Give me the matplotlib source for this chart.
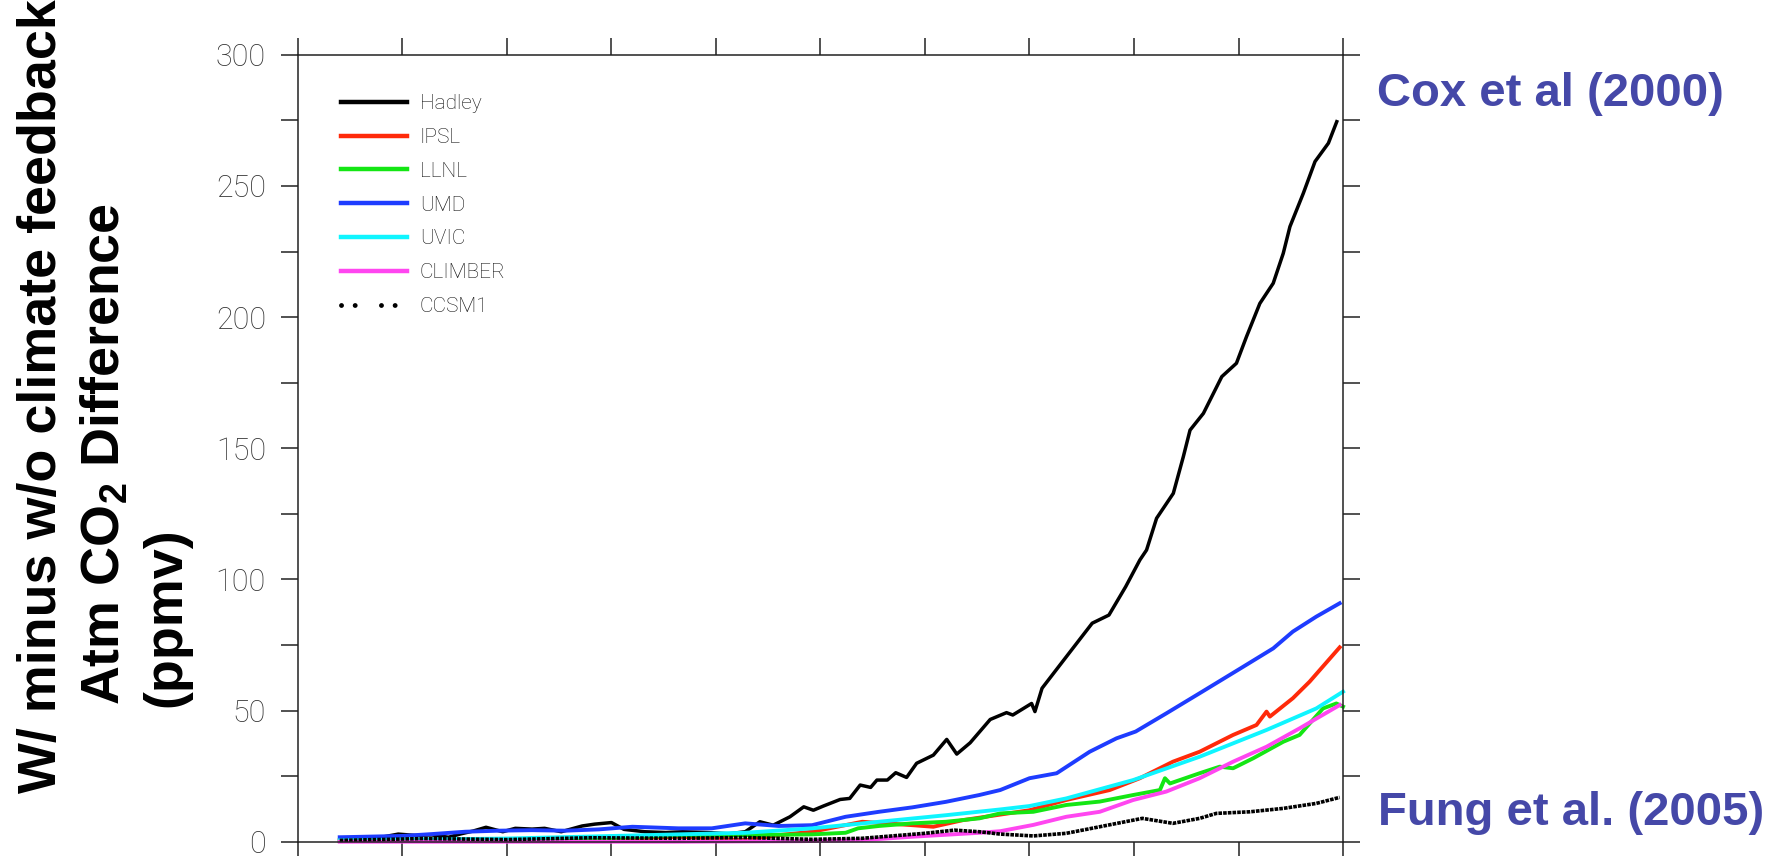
import numpy as np
import matplotlib
matplotlib.use('Agg')
import matplotlib.pyplot as plt
from matplotlib.ticker import MultipleLocator
from matplotlib.lines import Line2D

plt.rcParams['mathtext.fontset'] = 'custom'
plt.rcParams['mathtext.bf'] = 'Liberation Sans:bold'
plt.rcParams['mathtext.rm'] = 'Liberation Sans:bold'
plt.rcParams['mathtext.default'] = 'bf'

# data (year, ppmv difference)
hadley_yr = [1860, 1866, 1870, 1874, 1878, 1882, 1886, 1889, 1892, 1895, 1899, 1902, 1906,
             1909, 1913, 1918, 1921, 1925, 1928, 1933, 1938, 1942, 1948, 1953, 1957, 1960.5,
             1963.7, 1967.7, 1971, 1973.3, 1975.7, 1979.7, 1982, 1984.5, 1987, 1988.5, 1991,
             1993, 1995.6, 1998, 2002, 2005.2, 2007.6, 2010.8, 2015.6, 2019.5, 2021, 2025.5,
             2026.3, 2028, 2033.8, 2040, 2044, 2048, 2051.4, 2053, 2055.4, 2059.4, 2061.8,
             2063.4, 2066.6, 2071, 2074.5, 2076.9, 2080.1, 2083.3, 2085.7, 2087.3, 2090.5,
             2093.3, 2096.5, 2098.5]
hadley = [0.9, 1.3, 1.7, 2.9, 2.4, 2.6, 1.7, 3.0, 4.1, 5.5, 3.8, 5.1, 4.8,
          5.1, 3.8, 6.0, 6.7, 7.3, 4.7, 3.8, 3.5, 3.8, 3.5, 3.0, 3.8, 7.6,
          6.3, 9.5, 13.3, 12.0, 13.6, 16.1, 16.5, 21.6, 20.7, 23.5, 23.5,
          26.3, 24.5, 29.9, 33.0, 39.0, 33.4, 37.7, 46.6, 49.2, 48.3, 52.7,
          49.6, 58.5, 70.5, 83.3, 86.4, 97.2, 107.4, 111.2, 123.3, 132.8, 146.8,
          156.9, 163.3, 177.3, 182.4, 192.5, 205.2, 212.9, 224.3, 234.5, 247.2,
          259.3, 266.3, 274.5]

ipsl_yr = [1860, 1880, 1900, 1920, 1941, 1957, 1965, 1973, 1985, 1997, 2002, 2009, 2017,
           2025, 2033.8, 2044.2, 2051.4, 2059.3, 2065.7, 2073.7, 2079.3, 2081.7, 2082.5,
           2088, 2092, 2099.2]
ipsl = [0.3, 0.5, 0.4, 0.6, 1.9, 0.6, 2.5, 3.8, 7.6, 6.3, 5.7, 8.2, 10.1,
        12.0, 15.9, 19.7, 24.2, 30.5, 34.3, 40.7, 44.5, 49.6, 47.7,
        54.7, 61.0, 74.1]

llnl_yr = [1860, 1880, 1900, 1920, 1941, 1957, 1973, 1981, 1984, 1989, 1997, 2005, 2013,
           2018, 2025.9, 2033.8, 2041.8, 2049.8, 2056.2, 2057.4, 2058.6, 2065.7, 2070.5,
           2073.7, 2078.5, 2085.7, 2089.6, 2095.2, 2098.4, 2100]
llnl = [0.5, 0.8, 0.6, 1.0, 2.5, 2.5, 2.8, 3.4, 5.1, 6.0, 7.0, 7.6, 8.9,
        10.8, 11.4, 14.0, 15.3, 17.8, 19.7, 24.2, 22.2, 26.1, 28.6,
        28.0, 31.8, 38.1, 40.7, 50.8, 52.7, 51.5]

umd_yr = [1860, 1875, 1882, 1890, 1898, 1906, 1914, 1922, 1930, 1941, 1949, 1957, 1965,
          1973, 1981, 1989, 1997, 2005, 2013, 2018, 2025, 2031.5, 2039.4, 2045.8, 2050.4,
          2057.7, 2065.7, 2075.5, 2083.3, 2088, 2093.6, 2099.2]
umd = [1.7, 2.2, 2.9, 3.8, 4.2, 4.4, 4.2, 4.7, 5.7, 5.1, 5.1, 7.0, 6.0,
       6.3, 9.5, 11.4, 13.1, 15.2, 17.8, 19.7, 24.2, 26.1, 34.3, 39.4, 42.0,
       48.9, 56.6, 66.1, 73.7, 80.1, 85.8, 90.9]

uvic_yr = [1860, 1900, 1941, 1957, 1973, 1989, 2005, 2018, 2025, 2033.8, 2049.8, 2065.7,
           2081.7, 2093.6, 2100]
uvic = [0.5, 1.2, 2.8, 3.4, 5.1, 7.6, 10.1, 12.3, 13.6, 16.5, 23.5, 32.4,
        42.6, 50.8, 57.2]

climber_yr = [1860, 1900, 1940, 1970, 1985, 1997, 2013, 2018, 2025.9, 2033.8, 2041.8,
              2049.8, 2057.7, 2065.7, 2073.7, 2081.7, 2089.6, 2099.2]
climber = [0.0, 0.0, 0.0, 0.2, 0.6, 1.9, 3.4, 4.0, 6.4, 9.5, 11.4,
           15.9, 19.1, 24.2, 30.5, 36.2, 43.2, 52.1]

ccsm_yr = [1860, 1880, 1900, 1920, 1941, 1957, 1973, 1985, 2000, 2007, 2013, 2018, 2025.9,
           2033.8, 2041.8, 2052, 2059.3, 2065.7, 2069.7, 2077.7, 2085.7, 2093.6, 2099.2]
ccsm = [0.5, 1.2, 0.8, 1.5, 1.3, 1.6, 0.9, 1.3, 3.2, 4.4, 3.8, 2.9, 2.2,
        3.2, 5.7, 8.9, 7.0, 8.9, 10.8, 11.4, 12.7, 14.6, 16.9]

names = ['Hadley', 'IPSL', 'LLNL', 'UMD', 'UVIC', 'CLIMBER', 'CCSM1']
colors = ['black', '#ff2a0a', '#14e614', '#1e3cff', '#0ff5ff', '#ff46f0', 'black']

fig = plt.figure(figsize=(17.85, 8.56), dpi=100)
ax = fig.add_axes([0.1669, 0.0167, 0.5855, 0.9193])

series = [(hadley_yr, hadley), (ipsl_yr, ipsl), (llnl_yr, llnl), (umd_yr, umd),
          (uvic_yr, uvic), (climber_yr, climber)]
for (xs, ys), c in zip(series, colors[:6]):
    ax.plot(xs, ys, color=c, lw=2.8 if c != 'black' else 2.5, clip_on=False)
ax.plot(ccsm_yr, ccsm, color='black', lw=2.6, linestyle=(0, (1.0, 0.3)), clip_on=False)

ax.set_xlim(1850, 2100)
ax.set_ylim(0, 300)
ax.xaxis.set_major_locator(MultipleLocator(25))
ax.yaxis.set_major_locator(MultipleLocator(50))
ax.yaxis.set_minor_locator(MultipleLocator(25))
ax.tick_params(which='both', direction='out', length=12, width=1.1, color='#222222',
               top=True, right=True, labelbottom=False)
ax.tick_params(axis='y', labelsize=22, labelcolor='#333333', pad=11)
for lab in ax.get_yticklabels():
    lab.set_family(['Roboto', 'DejaVu Sans'])
    lab.set_fontweight('light')
for s in ax.spines.values():
    s.set_linewidth(1.1)
    s.set_color('#222222')

handles = [Line2D([], [], color=c, lw=3.2) for c in colors[:6]]
handles.append(Line2D([], [], color='black', lw=3.5, dash_capstyle='round',
                      linestyle=(0, (0.01, 2.8, 0.01, 5.4))))
leg = ax.legend(handles, names, loc='upper left', bbox_to_anchor=(0.041, 0.950),
                frameon=False, handlelength=3.2, handletextpad=0.6,
                labelspacing=0.71, borderpad=0, borderaxespad=0,
                prop={'family': ['Roboto', 'DejaVu Sans'], 'weight': 'light', 'size': 15})
for t in leg.get_texts():
    t.set_color('#111111')

# y label, three lines
lab_kw = dict(rotation=90, rotation_mode='anchor', ha='left', va='baseline',
              fontsize=38.8, fontweight='bold', family='Liberation Sans')
fig.text(56 / 1785, 1 - 793 / 856, 'W/ minus w/o climate feedback', **lab_kw)
fig.text(120 / 1785, 1 - 705 / 856, 'Atm CO$_{2}$ Difference', **lab_kw)
fig.text(180 / 1785, 1 - 707 / 856, '(ppmv)', **lab_kw)

note_kw = dict(ha='left', va='baseline', fontsize=34, fontweight='bold',
               family='Liberation Sans', color='#4548a8')
fig.text(1377 / 1785, 1 - 106 / 856, 'Cox et al (2000)', **note_kw)
fig.text(1378 / 1785, 1 - 825 / 856, 'Fung et al. (2005)', **note_kw)

fig.savefig('out.png', dpi=100)
